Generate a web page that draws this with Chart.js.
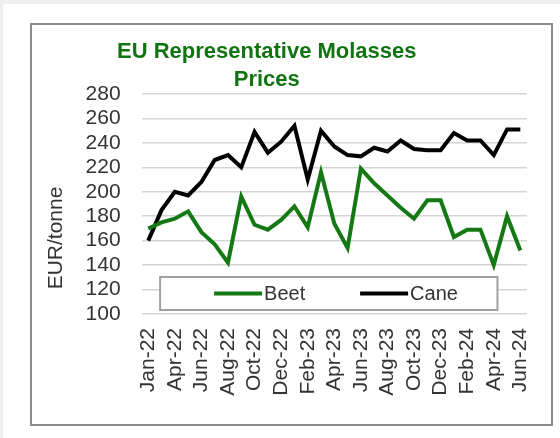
<!DOCTYPE html>
<html><head><meta charset="utf-8">
<script src="https://cdn.jsdelivr.net/npm/chart.js@4"></script>
<style>html,body{margin:0;padding:0;background:#efefef;} canvas{display:block}</style>
</head><body>
<canvas id="c" width="560" height="438"></canvas>
<script>
const categories = ['Jan-22','Mar-22','Apr-22','May-22','Jun-22','Jul-22','Aug-22','Sep-22','Oct-22','Nov-22','Dec-22',
  'Jan-23','Feb-23','Mar-23','Apr-23','May-23','Jun-23','Jul-23','Aug-23','Sep-23','Oct-23','Nov-23','Dec-23',
  'Jan-24','Feb-24','Mar-24','Apr-24','May-24','Jun-24'];
const beet = [170,175,178,184,167,157,142,196,173,169,177,188,171,216,174,154,219,207,197,187,178,193,193,163,169,169,140,180,152];
const cane = [160,185,200,197,208,226,230,220,249,232,241,254,210,250,237,230,229,236,233,242,235,234,234,248,242,242,230,251,251];
const titleLines = ['EU Representative Molasses','Prices'];
const yAxisTitle = 'EUR/tonne';
const yMin = 100, yMax = 280, yStep = 20;

const FONT = "'Liberation Sans', Arial, sans-serif";
const TEXT = '#333';

const bgPlugin = {
  id: 'bg',
  beforeDraw(chart) {
    const ctx = chart.ctx;
    ctx.save();
    ctx.fillStyle = '#efefef';
    ctx.fillRect(0, 0, chart.width, chart.height);
    ctx.fillStyle = '#ffffff';
    ctx.fillRect(3, 4, chart.width - 3, chart.height - 4);
    ctx.strokeStyle = '#8c8c8c';
    ctx.lineWidth = 2;
    ctx.strokeRect(31, 24, 521, 401);
    ctx.restore();
  }
};

const boxLegend = {
  id: 'boxLegend',
  beforeDatasetsDraw(chart) {
    const ctx = chart.ctx, ca = chart.chartArea;
    const left = ca.left + 18.5, right = ca.right - 29.5;
    const bottom = ca.bottom - 4, top = bottom - 33;
    ctx.save();
    ctx.fillStyle = '#fff';
    ctx.fillRect(left, top, right - left, bottom - top);
    ctx.strokeStyle = '#a0a0a0';
    ctx.lineWidth = 2;
    ctx.strokeRect(left, top, right - left, bottom - top);
    const cy = (top + bottom) / 2;
    const starts = [left + 54, left + 200];
    ctx.font = '20px ' + FONT;
    ctx.textBaseline = 'middle';
    ctx.textAlign = 'left';
    chart.data.datasets.forEach((ds, i) => {
      const x = starts[i];
      ctx.strokeStyle = ds.borderColor;
      ctx.lineWidth = 4;
      ctx.beginPath();
      ctx.moveTo(x, cy);
      ctx.lineTo(x + 48, cy);
      ctx.stroke();
      ctx.fillStyle = TEXT;
      ctx.fillText(ds.label, x + 50, cy + 1);
    });
    ctx.restore();
  },
  afterDraw(chart) {
    const ctx = chart.ctx;
    ctx.save();
    ctx.translate(56, 238);
    ctx.rotate(-Math.PI / 2);
    ctx.font = '21px ' + FONT;
    ctx.fillStyle = TEXT;
    ctx.textAlign = 'center';
    ctx.textBaseline = 'middle';
    ctx.fillText(yAxisTitle, 0, 0);
    ctx.restore();
  }
};

new Chart(document.getElementById('c'), {
  type: 'line',
  data: {
    labels: categories,
    datasets: [
      { label: 'Beet', data: beet, borderColor: '#147814', borderWidth: 4, pointRadius: 0, tension: 0, fill: false },
      { label: 'Cane', data: cane, borderColor: '#000000', borderWidth: 4, pointRadius: 0, tension: 0, fill: false }
    ]
  },
  options: {
    responsive: false,
    animation: false,
    layout: { padding: { left: 0, right: 26.5, top: 0, bottom: 0 } },
    plugins: {
      legend: { display: false },
      tooltip: { enabled: false },
      title: {
        display: true,
        text: titleLines,
        color: '#127312',
        font: { family: FONT, size: 22, weight: 'bold', lineHeight: '28px' },
        padding: { top: 38, bottom: 0 }
      }
    },
    scales: {
      x: {
        offset: true,
        grid: { display: false, drawTicks: false },
        border: { display: false },
        ticks: {
          autoSkip: false, minRotation: 90, maxRotation: 90, padding: 14,
          color: TEXT, font: { family: FONT, size: 21 },
          callback: function (v, i) { return i % 2 === 0 ? this.getLabelForValue(v) : ''; }
        },
        afterFit(scale) { scale.height = 124; }
      },
      y: {
        min: yMin, max: yMax,
        grid: { color: '#d4d4d4', lineWidth: 1.5, drawTicks: false },
        border: { display: false },
        ticks: {
          stepSize: yStep, autoSkip: false, padding: 21,
          color: TEXT, font: { family: FONT, size: 21, lineHeight: 1 }
        },
        afterFit(scale) { scale.width = 141.6; }
      }
    }
  },
  plugins: [bgPlugin, boxLegend]
});
</script>
</body></html>
